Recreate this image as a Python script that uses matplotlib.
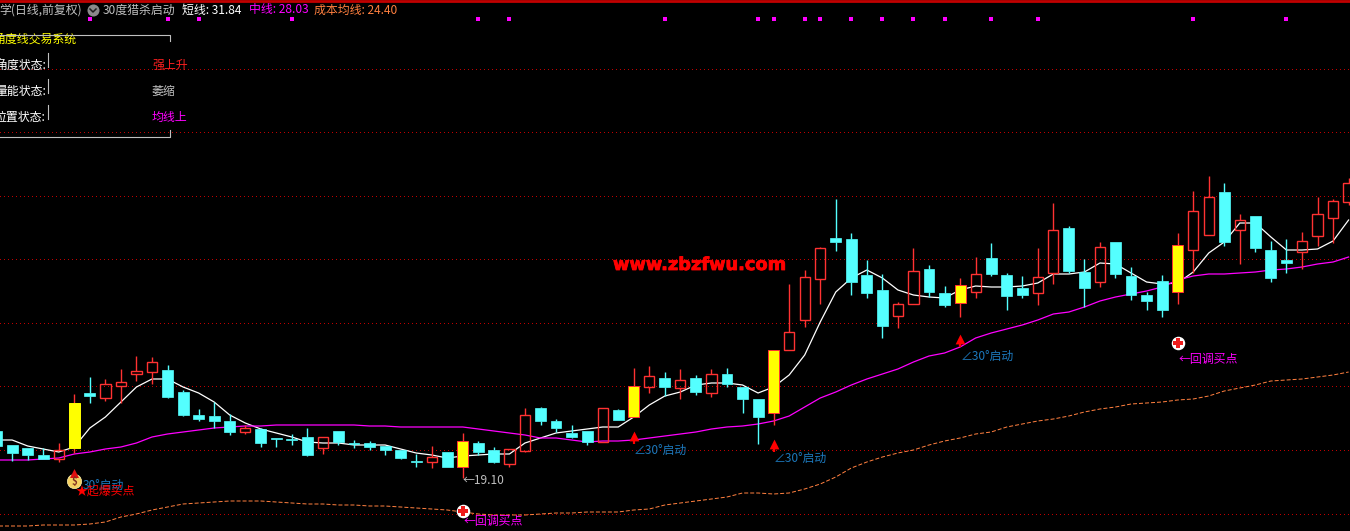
import numpy as np
import matplotlib
matplotlib.use("Agg")
import matplotlib.pyplot as plt
import matplotlib.patheffects as pe
from matplotlib.transforms import Affine2D

plt.rcParams['font.family'] = ['Noto Sans CJK SC', 'DejaVu Sans']

# values are read off the picture, in screen rows of the chart (the source has no price axis)
# c = cyan (down), r = red hollow (up), y = yellow signal bar
kind = list("ccccrycrrr" "rcccccrccc" "crccccccrc" "yccrrccccr" "cyrcrcrccc"
            "yrrrccccrr" "ccyrcccrrc" "crccccyrrc" "rcccrrrr")
top = [431,445,448,455,450,403,393,384,382,371,362,370,392,415,416,421,428,429,438,439,437,437,431,443,443,446,450,461,457,452,
       441,443,450,449,415,408,421,433,431,408,410,386,376,378,380,378,374,374,387,399,350,332,277,248,238,239,275,290,304,271,
       269,293,285,274,258,275,288,277,230,228,272,247,242,276,295,281,245,211,197,192,220,216,250,260,241,214,201,183]
bot = [446,453,455,459,459,448,396,398,386,374,372,397,415,419,421,432,432,443,439,440,455,448,442,444,447,450,458,462,462,467,
       467,452,462,464,451,421,428,437,442,442,420,417,387,387,388,392,393,384,399,417,413,350,320,279,242,282,293,326,316,304,
       292,305,303,292,274,296,295,293,273,271,288,282,274,295,301,310,292,250,235,242,230,248,278,263,252,236,218,202]
high = [431,445,448,448,443,394,377,379,369,356,357,365,390,409,402,414,425,428,438,434,428,437,431,440,441,446,450,454,446,452,
        433,441,447,449,408,407,419,425,431,408,409,368,366,372,369,375,369,368,387,399,350,284,270,247,199,233,260,274,302,248,
        265,286,278,257,243,273,276,248,203,226,259,242,242,267,292,275,233,191,176,183,214,216,241,239,232,197,199,178]
low = [446,461,460,459,462,453,403,401,403,381,384,398,416,421,428,435,434,447,447,445,456,454,445,448,450,455,459,467,468,467,
       478,455,463,467,452,425,432,438,445,442,420,417,393,396,399,395,397,387,413,444,425,350,327,304,251,295,298,338,328,304,
       297,307,317,298,276,310,298,305,284,273,307,287,278,300,310,317,304,273,235,246,264,252,282,273,269,246,243,205]
ma_short = [440,440,446,449,452,447,428,417,402,387,379,379,387,393,402,415,423,429,433,437,442,443,443,445,445,445,449,453,455,458,
            456,455,454,454,443,438,433,431,429,427,427,417,405,396,392,385,383,383,385,393,387,375,355,322,292,278,270,278,290,295,
            297,298,290,286,287,287,286,283,274,274,272,263,264,273,282,284,283,272,253,242,223,223,237,250,250,249,241,220]
ma_mid = [460,460,460,459,458,454,452,449,447,443,437,434,432,430,428,427,426,426,425,425,425,425,425,425,426,426,427,427,427,427,
          427,429,431,433,435,438,438,440,442,441,441,440,438,436,434,432,429,427,426,424,421,416,407,398,392,385,379,374,369,362,
          356,353,347,338,333,329,325,320,314,312,307,301,297,294,291,287,280,276,274,274,273,272,270,269,267,264,262,257]
ma_cost = [526,526,526,525,525,525,524,522,517,514,510,507,504,503,502,501,501,501,502,503,504,504,505,505,506,506,507,508,509,510,
           512,514,515,515,515,514,513,513,512,512,512,510,509,505,503,501,499,497,493,493,494,493,489,484,477,468,462,457,453,450,
           445,441,438,434,432,427,424,421,419,416,412,409,407,404,403,402,400,399,396,391,388,385,381,380,379,377,375,372]
grid_rows = [69,132,196,259,323,386,450,514]
dot_bars = [6,11,13,19,31,33,43,49,50,52,53,55,57,59,61,64,67,77,83]

start_bars = [41, 50, 62]
start_rows = [432, 440, 335]
start_label_rows = [450, 458, 356]
pullback_bars = [30, 76]
pullback_rows = [511, 343]
pullback_label_rows = [521, 359]

CYAN = '#54ffff'
RED = '#ff3232'
MAGENTA = '#ff00ff'
ORANGE = '#ff7f3f'
BLUE = '#1c78bc'
GRID = '#c00000'

fig = plt.figure(figsize=(13.5, 5.31), dpi=100, facecolor='black')
ax = fig.add_axes([0, 0, 1, 1], facecolor='black')
ax.set_xlim(0.219, 87.09)
ax.set_ylim(531, 0)
ax.axis('off')

# pixel transform for the panel text that does not hang off a bar
px = Affine2D().scale(1 / 1350, -1 / 531).translate(0, 1) + fig.transFigure

for r in grid_rows:
    ax.axhline(r, color=GRID, lw=0.72, ls=(0, (1, 3)), antialiased=False, zorder=1)
ax.axhline(0.5, color=GRID, lw=2, zorder=1)

x = np.arange(len(top))
ax.plot(x, ma_short, color='white', lw=0.9, zorder=2)
ax.plot(x, ma_mid, color=MAGENTA, lw=0.9, zorder=2)
ax.plot(x, ma_cost, color=ORANGE, lw=0.72, ls=(0, (4, 2)), zorder=2)

for i, k in enumerate(kind):
    col = RED if k != 'c' else CYAN
    ax.vlines(i, high[i], top[i], color=col, lw=1.0, zorder=3)
    ax.vlines(i, bot[i], low[i], color=col, lw=1.0, zorder=3)
    h = bot[i] - top[i]
    if k == 'c':
        ax.bar(i, h, 0.70, bottom=top[i], color=CYAN, edgecolor=CYAN, lw=0.5, zorder=4)
    elif k == 'r':
        ax.bar(i, h, 0.66, bottom=top[i], facecolor='none', edgecolor=RED, lw=1.0, zorder=4)
    else:
        edge = '#ffff00' if i == 5 else RED
        ax.bar(i, h, 0.70, bottom=top[i], color='#ffff00', edgecolor=edge, lw=0.7, zorder=4)

ax.scatter(dot_bars, [19] * len(dot_bars), marker='s', s=7, color=MAGENTA, lw=0, zorder=5)

# start arrows and labels
for b, r, lr in zip(start_bars, start_rows, start_label_rows):
    ax.scatter(b, r + 3.5, marker='^', s=50, color='red', lw=0, zorder=6)
    ax.vlines(b, r + 5, r + 12, color='red', lw=1.6, zorder=6)
    ax.text(b + 0.03, lr, '∠30°启动', color=BLUE, fontsize=8.6, va='center', zorder=7)

# pullback markers
for b, r, lr in zip(pullback_bars, pullback_rows, pullback_label_rows):
    ax.scatter(b, r, marker='o', s=95, color='white', lw=0, zorder=6)
    ax.scatter(b, r, marker='P', s=42, color='#ee1c1c', lw=0, zorder=7)
    ax.text(b + 0.03, lr, '←回调买点', color=MAGENTA, fontsize=8.6, va='center', zorder=7)

# money bag at the first signal
ax.scatter(5, 481, marker='o', s=105, color='#f5d060', edgecolor='#fff3b0', lw=0.5, zorder=6)
ax.scatter(5, 473, marker='^', s=42, color='#e01010', lw=0, zorder=6)
ax.text(5, 481.5, '$', color='#803020', fontsize=7, fontweight='bold', ha='center', va='center', zorder=7)
ax.text(5.55, 485, '30°启动', color=BLUE, fontsize=8.6, va='center', zorder=7)
ax.text(5.05, 491, '★起爆买点', color='red', fontsize=8.6, va='center', zorder=8)
ax.text(30, 480, '←19.10', color='#c0c0c0', fontsize=8.6, va='center', zorder=7)

wm = ax.text(613, 265, 'www.zbzfwu.com', transform=px, color='#ff0000', fontsize=12.8,
             fontweight='bold', family='DejaVu Sans', va='center', zorder=7)
wm.set_path_effects([pe.withStroke(linewidth=0.6, foreground='#ff0000')])

# header row
head_parts = [(-1, '学(日线,前复权)', '#c0c0c0'), (103, '30度猎杀启动', '#c0c0c0'),
              (182, '短线: 31.84', 'white'), (249, '中线: 28.03', MAGENTA),
              (314, '成本均线: 24.40', ORANGE)]
for hx, s, c in head_parts:
    ax.text(hx, 10, s, transform=px, color=c, fontsize=8.6, va='center', zorder=7)
ax.scatter(93, 10, transform=px, marker='o', s=75, color='#8a8a8a', lw=0, zorder=7)
ax.plot([90, 93, 96], [9, 12, 9], transform=px, color='#202020', lw=1.1, zorder=8)

# state panel
ax.text(-7, 40, '角度线交易系统', transform=px, color='yellow', fontsize=8.6, va='center', zorder=7)
state_rows = [65, 91, 117]
state_names = ['角度状态:', '量能状态:', '位置状态:']
state_values = ['强上升', '萎缩', '均线上']
state_colors = ['#ff2020', '#c0c0c0', MAGENTA]
for r, n, v, c in zip(state_rows, state_names, state_values, state_colors):
    ax.text(-5, r, n, transform=px, color='white', fontsize=8.6, va='center', zorder=7)
    ax.text(152, r, v, transform=px, color=c, fontsize=8.6, va='center', zorder=7)
    ax.plot([48, 48], [r - 12, r + 2], transform=px, color='#c0c0c0', lw=0.8, zorder=7)
ax.plot([0, 170, 170], [34.5, 34.5, 41], transform=px, color='#c0c0c0', lw=0.8, zorder=7)
ax.plot([0, 170, 170], [137, 137, 130], transform=px, color='#c0c0c0', lw=0.8, zorder=7)

fig.savefig('out.png', dpi=100, facecolor='black')
